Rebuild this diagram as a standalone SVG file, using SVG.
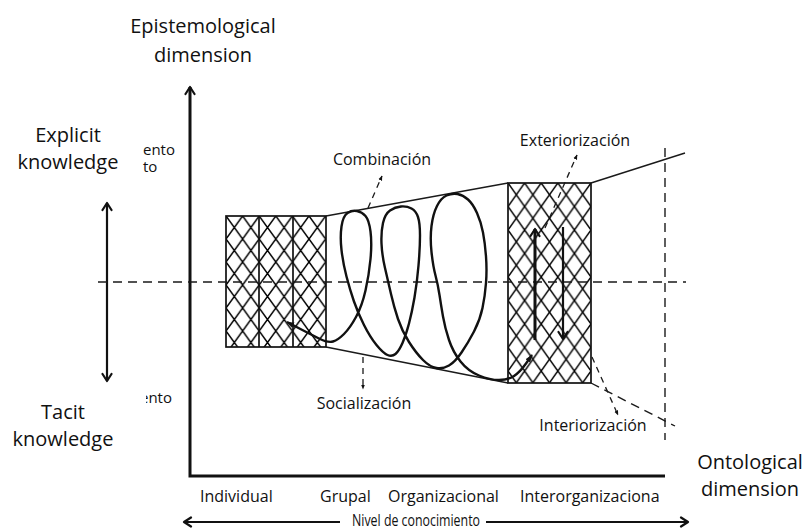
<svg xmlns="http://www.w3.org/2000/svg" width="806" height="530" viewBox="0 0 806 530">
<style>
  text { font-family: "Open Sans", "Noto Sans", "DejaVu Sans", sans-serif; fill: #111; }
  .big { font-size: 20px; text-anchor: middle; }
  .lbl { font-size: 16px; }
  .frag { font-size: 15px; }
  .mid { text-anchor: middle; }
  .axis { stroke: #111; stroke-width: 3; fill: none; }
  .arr { stroke: #111; stroke-width: 2.2; fill: none; }
  .thin { stroke: #1a1a1a; stroke-width: 1.4; fill: none; }
  .dash { stroke: #1a1a1a; stroke-width: 1.4; fill: none; stroke-dasharray: 9 6; }
  .ptr { stroke: #1a1a1a; stroke-width: 1.3; fill: none; stroke-dasharray: 6 5; }
  .box { stroke: #111; stroke-width: 1.7; }
  .hatch { stroke: #000; stroke-width: 1.5; }
  .spiral { stroke: #111; stroke-width: 2.4; fill: none; stroke-linejoin: round; }
</style>
<defs>
  <pattern id="hatchL" patternUnits="userSpaceOnUse" x="226" y="216" width="16.6" height="23">
    <rect width="16.6" height="23" fill="#fff"/>
    <path class="hatch" d="M0,0 L16.6,23 M16.6,0 L0,23"/>
  </pattern>
  <pattern id="hatchR" patternUnits="userSpaceOnUse" x="508" y="183" width="16.6" height="23.5">
    <rect width="16.6" height="23.5" fill="#fff"/>
    <path class="hatch" d="M0,0 L16.6,23.5 M16.6,0 L0,23.5"/>
  </pattern>
  <marker id="chev" viewBox="0 0 12 12" refX="10" refY="6" markerWidth="12" markerHeight="12" markerUnits="userSpaceOnUse" orient="auto-start-reverse">
    <path d="M3,1.5 L10,6 L3,10.5" fill="none" stroke="#111" stroke-width="2.2" stroke-linecap="round" stroke-linejoin="round"/>
  </marker>
  <marker id="tip" viewBox="0 0 10 10" refX="9" refY="5" markerWidth="8" markerHeight="8" markerUnits="userSpaceOnUse" orient="auto-start-reverse">
    <path d="M0,1.5 L10,5 L0,8.5 Z" fill="#111"/>
  </marker>
  <marker id="pin" viewBox="0 0 10 10" refX="9" refY="5" markerWidth="5" markerHeight="5" markerUnits="userSpaceOnUse" orient="auto">
    <path d="M0,1 L10,5 L0,9 Z" fill="#111"/>
  </marker>
  <clipPath id="cutLeft"><rect x="146" y="380" width="60" height="40"/></clipPath>
  <clipPath id="cutRight"><rect x="480" y="480" width="180" height="30"/></clipPath>
</defs>

<rect width="806" height="530" fill="#fff"/>

<!-- axis titles -->
<g id="label-epistemological">
  <text class="big" x="203" y="33">Epistemological</text>
  <text class="big" x="203" y="62">dimension</text>
</g>
<g id="label-explicit">
  <text class="big" x="68" y="142">Explicit</text>
  <text class="big" x="68" y="169">knowledge</text>
</g>
<g id="label-tacit">
  <text class="big" x="63" y="419">Tacit</text>
  <text class="big" x="63" y="446">knowledge</text>
</g>
<g id="label-ontological">
  <text class="big" x="750" y="469">Ontological</text>
  <text class="big" x="750" y="496">dimension</text>
</g>
<g id="fragments">
  <text class="frag" x="143" y="155">ento</text>
  <text class="frag" x="143" y="172">to</text>
  <text class="frag" x="140" y="403" clip-path="url(#cutLeft)">ento</text>
</g>

<!-- axes and reference lines -->
<g id="axes">
  <path class="axis" d="M665,476 L190,476 L190,87" marker-end="url(#chev)"/>
  <path class="arr" d="M107,203 L107,381" marker-start="url(#chev)" marker-end="url(#chev)"/>
  <path class="arr" d="M340,522 L184,522" marker-end="url(#chev)"/>
  <path class="arr" d="M486,522 L688,522" marker-end="url(#chev)"/>
</g>

<!-- knowledge-level boxes -->
<g id="box-individual">
  <rect class="box" x="226" y="216" width="100" height="131" fill="url(#hatchL)"/>
  <line class="box" x1="259" y1="216" x2="259" y2="347"/>
  <line class="box" x1="293" y1="216" x2="293" y2="347"/>
</g>
<g id="box-interorganizational">
  <rect class="box" x="508" y="183" width="83" height="200" fill="url(#hatchR)"/>
</g>

<g id="connectors">
  <!-- funnel outline -->
  <line class="thin" x1="326" y1="216" x2="508" y2="183"/>
  <line class="thin" x1="326" y1="347" x2="508" y2="383"/>
  <line class="thin" x1="591" y1="183" x2="685" y2="153"/>
  <line class="dash" x1="591" y1="383" x2="675" y2="426"/>
  <line class="dash" x1="665" y1="148" x2="665" y2="440"/>
  <!-- tacit / explicit divider -->
  <line class="dash" x1="98" y1="282" x2="686" y2="282"/>

  <!-- knowledge spiral -->
  <path class="spiral" marker-start="url(#tip)" marker-end="url(#tip)" d="M287,322 L298.5,328 Q310,334 319,338.5 Q328,343 333,341.5 Q338,340 344,334 Q350,328 356,317 Q362,306 365.5,290.5 Q369,275 370.5,259 Q372,243 370.5,231.5 Q369,220 365.5,216 Q362,212 357,211 Q352,210 347.5,213 Q343,216 341.5,226.5 Q340,237 341.5,250 Q343,263 346.5,276.5 Q350,290 354,301.5 Q358,313 364,325 Q370,337 376.5,345 Q383,353 387.5,355 Q392,357 395.5,354 Q399,351 402.5,343 Q406,335 409,323.5 Q412,312 414.5,297.5 Q417,283 418.5,265.5 Q420,248 420,235.5 Q420,223 418,217 Q416,211 411.5,208.5 Q407,206 401,206.5 Q395,207 390,210.5 Q385,214 383,223 Q381,232 381.5,243.5 Q382,255 385,268 Q388,281 391,294 Q394,307 398,319 Q402,331 409,342 Q416,353 423,360 Q430,367 436.5,368 Q443,369 449,365.5 Q455,362 461.5,352.5 Q468,343 474,331.5 Q480,320 482.5,308 Q485,296 486,283 Q487,270 486,256.5 Q485,243 483,232.5 Q481,222 477,213 Q473,204 468,199.5 Q463,195 457.5,194 Q452,193 446.5,195.5 Q441,198 437,206 Q433,214 431.5,226 Q430,238 431.5,252 Q433,266 435.5,275.5 Q438,285 439.5,295 Q441,305 443,316.5 Q445,328 449,340 Q453,352 460.5,361.5 Q468,371 479,375.5 Q490,380 499,380 Q508,380 514,376 Q520,372 526,363.5 L532,355"/>

  <!-- conversion arrows in the interorganizational box -->
  <line class="axis" x1="535" y1="340" x2="535" y2="229" marker-end="url(#chev)"/>
  <line class="arr" x1="563" y1="227" x2="563" y2="339" marker-end="url(#chev)"/>

  <!-- label pointers -->
  <line class="ptr" x1="368" y1="208" x2="382" y2="176" marker-end="url(#pin)"/>
  <line class="ptr" x1="363" y1="357" x2="363" y2="389" marker-end="url(#pin)"/>
  <line class="ptr" x1="545" y1="228" x2="577" y2="155" marker-end="url(#pin)"/>
  <line class="ptr" x1="592" y1="357" x2="618" y2="415" marker-end="url(#pin)"/>
</g>

<!-- mode labels -->
<g id="mode-combinacion"><text class="lbl mid" x="382" y="165">Combinación</text></g>
<g id="mode-socializacion"><text class="lbl mid" x="364" y="409">Socialización</text></g>
<g id="mode-exteriorizacion"><text class="lbl mid" x="575" y="146">Exteriorización</text></g>
<g id="mode-interiorizacion"><text class="lbl mid" x="593" y="431">Interiorización</text></g>

<!-- ontological levels -->
<g id="levels">
  <text class="lbl" x="200" y="502">Individual</text>
  <text class="lbl" x="320" y="502">Grupal</text>
  <text class="lbl" x="388" y="502">Organizacional</text>
  <text class="lbl" x="520" y="502" clip-path="url(#cutRight)">Interorganizacional</text>
  <text class="lbl" x="352" y="526" font-size="15" textLength="128" lengthAdjust="spacingAndGlyphs">Nivel de conocimiento</text>
</g>
</svg>
